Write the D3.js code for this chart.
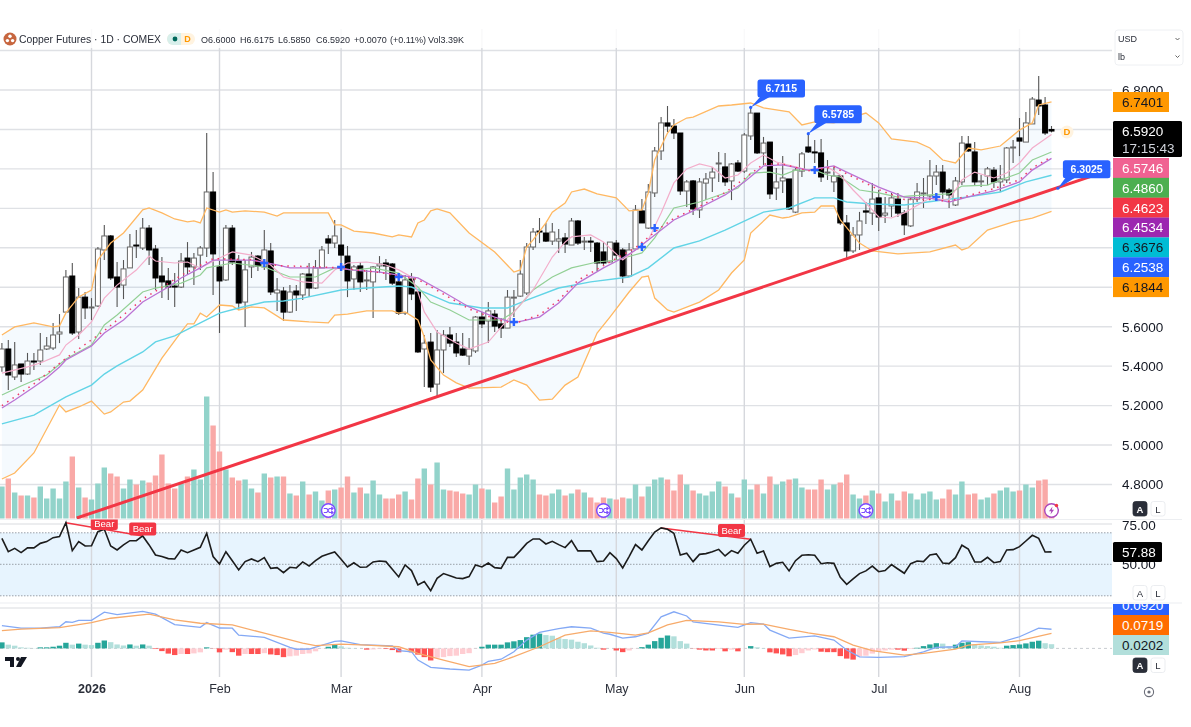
<!DOCTYPE html>
<html>
<head>
<meta charset="utf-8">
<title>Copper Futures</title>
<script src="https://cdnjs.cloudflare.com/ajax/libs/d3/7.8.5/d3.min.js"></script>
<style>
  html, body { margin: 0; padding: 0; background: #fff; }
  svg { display: block; filter: blur(0.4px); }
  text { font-family: "Liberation Sans", Arial, sans-serif; fill: #131722; }
</style>
</head>
<body>
<svg id="chart" width="1191" height="727"></svg>
<script>
// daily candles, one entry per bar
const opens = [5.396,5.487,5.345,5.411,5.360,5.426,5.426,5.487,5.492,5.563,
5.674,5.857,5.573,5.750,5.695,5.705,5.989,6.060,5.852,5.811,
5.898,6.014,5.999,6.100,5.994,5.857,5.832,5.806,5.801,5.948,
5.903,5.963,5.999,6.283,5.903,5.837,6.100,5.933,5.725,5.903,
5.958,5.903,5.984,5.771,5.781,5.674,5.781,5.761,5.867,5.796,
5.898,6.045,6.024,6.014,5.958,5.842,5.908,5.832,5.827,5.908,
5.923,5.918,5.827,5.669,5.842,5.776,5.487,5.522,5.309,5.482,
5.558,5.522,5.487,5.451,5.477,5.649,5.629,5.664,5.614,5.593,
5.745,5.755,5.771,6.004,6.085,6.075,6.034,6.034,6.050,6.014,
6.136,6.029,6.034,6.024,5.979,5.928,6.024,5.989,5.857,5.994,
6.187,6.100,6.278,6.491,6.633,6.617,6.582,6.288,6.339,6.192,
6.328,6.354,6.425,6.410,6.339,6.430,6.389,6.567,6.683,6.481,
6.536,6.303,6.339,6.349,6.181,6.389,6.511,6.486,6.481,6.379,
6.334,6.364,6.126,5.984,6.065,6.187,6.176,6.253,6.166,6.212,
6.247,6.176,6.111,6.247,6.273,6.263,6.364,6.384,6.293,6.217,
6.334,6.526,6.486,6.334,6.364,6.394,6.334,6.344,6.506,6.557,
6.536,6.628,6.749,6.724,6.600];
const highs = [5.517,5.533,5.523,5.411,5.467,5.467,5.568,5.548,5.619,5.664,
5.888,5.923,5.796,5.776,5.745,6.004,6.116,6.065,5.928,5.938,
6.070,6.090,6.151,6.116,6.014,5.953,5.898,5.872,5.974,6.029,
5.974,6.009,6.582,6.384,5.933,6.116,6.116,5.963,5.938,5.979,
5.963,6.090,6.024,5.847,5.801,5.811,5.811,5.872,5.923,5.938,
6.009,6.065,6.141,6.100,6.009,5.913,5.928,5.888,5.908,5.958,
5.943,5.923,5.862,5.862,5.872,5.781,5.558,5.568,5.583,5.583,
5.598,5.568,5.568,5.543,5.654,5.674,5.725,5.685,5.644,5.786,
5.786,5.938,6.024,6.100,6.151,6.126,6.126,6.095,6.075,6.151,
6.141,6.055,6.055,6.029,6.029,6.029,6.040,5.999,6.024,6.217,
6.247,6.323,6.511,6.663,6.719,6.653,6.582,6.344,6.344,6.354,
6.379,6.410,6.486,6.481,6.430,6.445,6.582,6.7115,6.683,6.562,
6.536,6.405,6.465,6.349,6.405,6.486,6.5785,6.547,6.552,6.445,
6.410,6.369,6.166,6.105,6.182,6.232,6.328,6.293,6.257,6.278,
6.278,6.192,6.257,6.328,6.354,6.445,6.420,6.420,6.303,6.359,
6.567,6.567,6.536,6.369,6.410,6.410,6.420,6.511,6.547,6.658,
6.689,6.764,6.871,6.764,6.6175];
const lows = [5.371,5.279,5.330,5.320,5.355,5.381,5.406,5.482,5.482,5.517,
5.674,5.558,5.538,5.639,5.634,5.700,5.938,5.837,5.700,5.740,
5.898,5.948,5.989,5.913,5.786,5.745,5.735,5.700,5.796,5.862,
5.811,5.888,5.953,5.761,5.568,5.832,5.913,5.685,5.598,5.847,
5.882,5.888,5.761,5.680,5.629,5.669,5.680,5.735,5.750,5.791,
5.898,5.969,5.999,5.898,5.750,5.786,5.776,5.786,5.644,5.872,
5.837,5.811,5.659,5.659,5.735,5.467,5.294,5.269,5.244,5.365,
5.497,5.446,5.451,5.406,5.467,5.593,5.517,5.573,5.543,5.593,
5.649,5.750,5.761,5.989,6.024,6.029,6.014,5.974,5.974,6.014,
6.014,5.989,5.979,5.882,5.913,5.928,5.938,5.822,5.852,5.989,
6.126,6.095,6.258,6.445,6.587,6.552,6.268,6.207,6.166,6.151,
6.242,6.283,6.334,6.313,6.242,6.384,6.379,6.547,6.476,6.420,
6.247,6.242,6.278,6.192,6.176,6.359,6.481,6.430,6.334,6.344,
6.283,6.116,5.948,5.974,5.989,6.121,6.116,6.085,6.126,6.156,
6.156,6.065,6.105,6.232,6.202,6.242,6.318,6.242,6.202,6.212,
6.318,6.486,6.313,6.308,6.318,6.303,6.283,6.328,6.430,6.465,
6.536,6.628,6.673,6.572,6.5850];
const closes = [5.487,5.355,5.406,5.360,5.426,5.421,5.482,5.502,5.558,5.573,
5.852,5.568,5.750,5.695,5.700,5.994,6.060,5.847,5.801,5.893,
6.004,6.009,6.100,5.989,5.847,5.827,5.801,5.801,5.933,5.903,
5.948,5.999,6.283,5.969,5.832,6.100,5.928,5.720,5.888,5.953,
5.908,5.989,5.776,5.786,5.674,5.776,5.761,5.867,5.796,5.898,
5.989,6.024,6.060,5.963,5.832,5.903,5.827,5.837,5.903,5.918,
5.908,5.821,5.669,5.837,5.766,5.472,5.517,5.294,5.482,5.558,
5.517,5.467,5.456,5.487,5.649,5.614,5.680,5.603,5.593,5.750,
5.750,5.867,6.004,6.080,6.080,6.034,6.080,6.045,6.019,6.136,
6.024,6.034,6.029,5.923,5.923,6.029,5.963,5.857,5.989,6.192,
6.126,6.283,6.491,6.633,6.617,6.582,6.288,6.334,6.197,6.334,
6.349,6.384,6.430,6.334,6.425,6.389,6.572,6.683,6.481,6.531,
6.273,6.334,6.354,6.197,6.394,6.476,6.486,6.481,6.359,6.384,
6.364,6.126,5.984,6.065,6.136,6.181,6.247,6.156,6.176,6.253,
6.176,6.116,6.247,6.283,6.278,6.364,6.384,6.283,6.268,6.339,
6.531,6.491,6.334,6.339,6.400,6.334,6.349,6.506,6.511,6.541,
6.633,6.754,6.719,6.582,6.5920];
// volume in thousands
const volumes = [32,40,26,23,23,21,32,20,30,20,
37,62,31,21,19,35,51,45,42,30,
39,34,38,36,43,64,35,30,35,42,
49,39,122,93,67,49,41,38,39,30,
26,45,41,42,42,25,23,37,24,27,
18,28,29,31,42,26,31,25,38,24,
20,20,24,27,19,40,50,34,56,29,
28,27,25,24,34,30,29,16,22,50,
29,41,44,39,24,23,25,29,23,25,
29,26,21,16,21,20,19,21,20,34,
22,32,39,41,39,28,44,34,28,25,
23,27,37,32,25,21,39,29,34,25,
42,34,37,39,40,31,29,29,39,29,
34,36,44,24,20,23,28,25,17,25,
18,27,25,19,25,27,19,20,29,24,
37,24,25,19,21,25,28,31,27,28,
34,31,38,39,3.39];
const rsi = [66.5,58.0,60.1,57.4,60.4,60.4,63.3,64.4,66.9,67.6,
76.4,58.7,64.4,61.6,61.8,70.7,72.2,61.6,59.1,62.3,
65.0,65.0,68.0,62.3,55.9,54.9,53.6,53.4,59.1,57.4,
59.1,60.8,69.7,54.9,50.2,58.0,52.3,46.4,51.7,53.4,
51.7,54.2,47.4,47.9,44.7,48.1,47.7,51.5,48.9,52.3,
55.1,56.5,57.8,53.2,48.3,51.0,48.1,48.3,51.5,52.1,
51.7,46.8,42.0,49.6,46.0,36.9,39.0,33.3,41.1,44.1,
42.8,41.3,40.9,42.2,49.6,48.3,50.8,47.9,47.4,54.4,
54.4,58.7,63.3,66.1,66.1,62.9,64.6,62.5,60.6,65.0,
58.5,58.5,58.5,51.7,52.1,57.4,53.6,47.7,54.9,62.5,
59.1,65.0,70.5,73.1,72.2,69.7,55.9,57.0,51.7,56.3,
56.8,58.0,59.5,55.3,58.7,57.0,62.1,65.9,57.0,58.5,
48.5,50.6,51.3,45.8,52.3,55.7,56.1,55.7,50.4,51.0,
50.6,41.7,37.3,40.7,44.1,45.8,48.9,45.3,46.0,49.8,
47.0,44.3,50.4,52.1,51.7,55.9,56.6,50.8,50.4,54.2,
62.1,59.7,51.5,51.5,54.4,51.0,51.7,59.1,59.3,61.2,
64.8,68.4,66.5,57.8,57.88];
const macdHist = [.029,.018,.013,.005,.003,.001,.005,.005,.008,.013,
.027,.018,.023,.018,.016,.027,.038,.030,.019,.014,
.019,.013,.019,.013,-.003,-.013,-.025,-.032,-.027,-.027,
-.024,-.019,.005,-.001,-.019,-.006,-.018,-.035,-.027,-.027,
-.027,-.023,-.029,-.032,-.042,-.038,-.035,-.027,-.024,-.014,
-.001,.008,.018,.010,.003,.001,0,-.006,-.005,-.003,
-.003,-.008,-.019,-.003,-.019,-.030,-.042,-.058,-.045,-.042,
-.037,-.035,-.027,-.023,-.001,.008,.018,.018,.018,.029,
.034,.040,.054,.066,.071,.064,.061,.049,.045,.042,
.032,.025,.014,.003,-.006,0,-.010,-.018,-.010,-.001,
.006,.018,.035,.051,.062,.058,.035,.023,-.001,-.006,
-.010,-.010,-.003,-.014,-.006,-.014,-.001,.011,.005,.001,
-.019,-.024,-.029,-.038,-.032,-.023,-.010,-.005,-.016,-.018,
-.018,-.037,-.049,-.054,-.038,-.035,-.025,-.016,-.010,-.006,
-.006,-.011,-.003,.003,.011,.019,.025,.023,.010,.018,
.027,.030,.018,.014,.011,.008,.003,.013,.016,.019,
.024,.032,.037,.025,.0202];

const bbUpper = [[0,5.558],[2,5.599],[5,5.619],[8,5.599],[9,5.604],[10,5.670],[12,5.751],[14,5.786],[15,5.938],[17,6.024],[19,6.075],[22,6.192],[23,6.202],[25,6.177],[27,6.146],[29,6.131],[30,6.136],[31,6.126],[32,6.202],[34,6.181],[35,6.192],[36,6.181],[38,6.187],[41,6.181],[43,6.161],[44,6.177],[51,6.177],[52,6.116],[53,6.116],[55,6.085],[58,6.075],[61,6.055],[62,6.065],[64,6.055],[65,6.126],[66,6.141],[67,6.187],[68,6.197],[70,6.177],[73,6.075],[77,5.979],[80,5.877],[81,5.888],[82,6.004],[83,6.040],[85,6.126],[86,6.181],[88,6.227],[89,6.283],[91,6.298],[93,6.273],[96,6.253],[98,6.187],[100,6.192],[101,6.278],[102,6.445],[104,6.582],[105,6.623],[107,6.658],[108,6.663],[112,6.719],[114,6.724],[117,6.734],[119,6.709],[123,6.689],[125,6.623],[127,6.638],[130,6.633],[135,6.683],[137,6.633],[139,6.552],[143,6.536],[145,6.506],[147,6.445],[149,6.430],[151,6.506],[153,6.496],[156,6.516],[159,6.597],[161,6.633],[162,6.724],[164,6.7401]];
const bbLower = [[0,4.828],[2,4.858],[5,4.960],[9,5.203],[10,5.168],[12,5.193],[14,5.223],[16,5.157],[17,5.168],[19,5.218],[20,5.223],[22,5.279],[25,5.441],[28,5.573],[29,5.614],[30,5.614],[31,5.669],[32,5.649],[34,5.710],[36,5.705],[37,5.685],[39,5.700],[41,5.695],[44,5.634],[48,5.624],[51,5.619],[52,5.659],[54,5.664],[57,5.680],[61,5.680],[62,5.669],[63,5.675],[65,5.634],[66,5.548],[67,5.431],[69,5.355],[71,5.315],[73,5.289],[78,5.294],[80,5.330],[82,5.304],[84,5.228],[86,5.233],[88,5.304],[90,5.345],[93,5.568],[95,5.649],[98,5.776],[100,5.852],[101,5.857],[102,5.745],[104,5.685],[105,5.674],[109,5.725],[112,5.786],[114,5.872],[116,5.938],[117,6.075],[120,6.166],[122,6.151],[123,6.156],[125,6.177],[127,6.181],[128,6.212],[130,6.212],[131,6.141],[134,6.024],[136,5.984],[140,5.969],[145,5.979],[149,6.014],[150,5.989],[151,6.000],[154,6.090],[158,6.131],[161,6.151],[164,6.1844]];
const cyanLine = [[0,5.107],[5,5.152],[10,5.244],[14,5.304],[16,5.360],[18,5.401],[22,5.472],[24,5.523],[27,5.553],[31,5.619],[34,5.669],[37,5.695],[41,5.725],[44,5.730],[47,5.745],[53,5.786],[57,5.796],[62,5.806],[64,5.801],[67,5.761],[70,5.720],[75,5.695],[79,5.695],[82,5.735],[87,5.796],[92,5.827],[98,5.852],[101,5.898],[105,5.999],[109,6.035],[113,6.090],[117,6.151],[119,6.181],[123,6.202],[127,6.253],[130,6.253],[132,6.232],[136,6.222],[141,6.217],[147,6.242],[151,6.258],[156,6.283],[160,6.334],[164,6.3676]];
const greenLine = [[0,5.254],[3,5.299],[7,5.355],[10,5.436],[14,5.507],[16,5.609],[18,5.659],[22,5.776],[24,5.796],[28,5.821],[31,5.862],[32,5.898],[36,5.923],[41,5.903],[43,5.877],[45,5.852],[49,5.852],[52,5.898],[55,5.887],[58,5.898],[62,5.872],[65,5.801],[67,5.725],[70,5.685],[73,5.634],[78,5.634],[80,5.674],[83,5.786],[86,5.852],[89,5.898],[93,5.928],[96,5.938],[100,5.974],[102,6.050],[105,6.202],[109,6.232],[113,6.278],[115,6.303],[117,6.379],[120,6.384],[122,6.369],[124,6.394],[127,6.394],[129,6.369],[131,6.359],[134,6.293],[137,6.278],[140,6.257],[142,6.263],[148,6.273],[150,6.313],[154,6.318],[156,6.344],[159,6.379],[161,6.445],[164,6.4860]];
const purpleLine = [[0,5.188],[2,5.228],[5,5.294],[7,5.340],[9,5.396],[10,5.431],[14,5.502],[16,5.568],[19,5.634],[22,5.725],[26,5.801],[28,5.847],[31,5.898],[33,5.938],[36,5.938],[39,5.938],[43,5.913],[45,5.898],[52,5.898],[55,5.887],[59,5.877],[62,5.862],[65,5.847],[69,5.776],[73,5.700],[77,5.649],[80,5.619],[84,5.649],[87,5.720],[90,5.821],[94,5.898],[97,5.948],[99,5.989],[102,6.065],[105,6.141],[109,6.202],[113,6.268],[116,6.334],[119,6.415],[122,6.420],[126,6.394],[130,6.415],[132,6.384],[137,6.308],[141,6.257],[145,6.252],[148,6.232],[151,6.258],[155,6.288],[159,6.334],[161,6.394],[164,6.4534]];
const redDots = [[0,5.20],[5,5.31],[10,5.44],[16,5.58],[22,5.74],[28,5.86],[33,5.945],[39,5.94],[43,5.91],[52,5.90],[59,5.875],[65,5.84],[69,5.765],[73,5.69],[77,5.64],[80,5.615],[84,5.66],[87,5.735],[90,5.835],[94,5.91],[99,6.0],[102,6.08],[105,6.15],[109,6.21],[113,6.28],[116,6.35],[119,6.425],[122,6.425],[126,6.39],[130,6.41],[132,6.375],[137,6.295],[141,6.245],[145,6.245],[148,6.235],[151,6.265],[155,6.30],[159,6.345],[161,6.405],[164,6.4623]];
const pinkLine = [[0,5.365],[4,5.396],[6,5.416],[9,5.457],[10,5.507],[12,5.558],[14,5.624],[16,5.745],[18,5.811],[21,5.887],[23,5.958],[24,5.933],[27,5.923],[29,5.928],[31,5.898],[34,5.948],[36,5.979],[39,5.963],[42,5.913],[44,5.852],[47,5.827],[50,5.821],[52,5.887],[54,5.923],[57,5.928],[60,5.913],[62,5.888],[64,5.852],[65,5.776],[66,5.675],[68,5.573],[71,5.517],[73,5.487],[76,5.522],[83,5.786],[86,5.953],[88,6.029],[89,6.055],[92,6.065],[94,6.029],[97,5.938],[99,5.989],[101,6.040],[103,6.177],[105,6.329],[107,6.400],[109,6.425],[111,6.410],[113,6.354],[115,6.369],[117,6.430],[119,6.470],[121,6.435],[124,6.410],[126,6.394],[129,6.410],[131,6.369],[133,6.293],[135,6.227],[137,6.156],[139,6.151],[141,6.177],[145,6.252],[148,6.242],[150,6.344],[152,6.384],[155,6.354],[157,6.379],[159,6.430],[161,6.506],[164,6.5746]];
const macdLine = [[0,.109],[3,.097],[6,.097],[9,.104],[10,.128],[11,.125],[12,.135],[14,.135],[16,.174],[18,.162],[22,.178],[24,.165],[27,.114],[31,.101],[32,.124],[34,.098],[36,.097],[37,.064],[41,.053],[45,.005],[46,-.004],[48,-.003],[52,.034],[53,.036],[56,.018],[61,.012],[62,-.011],[64,-.016],[65,-.056],[67,-.091],[70,-.099],[73,-.104],[75,-.080],[76,-.062],[78,-.052],[80,-.016],[82,.040],[84,.077],[87,.095],[89,.104],[92,.097],[94,.073],[95,.068],[97,.049],[99,.056],[101,.073],[103,.152],[105,.176],[107,.156],[108,.128],[113,.108],[115,.101],[117,.124],[119,.117],[120,.088],[123,.049],[127,.060],[130,.040],[132,-.008],[134,-.041],[137,-.043],[141,-.040],[144,-.017],[146,.005],[149,.008],[150,.036],[153,.032],[156,.029],[159,.056],[162,.097],[164,.092]];
const signalLine = [[0,.085],[3,.093],[9,.100],[14,.124],[17,.145],[23,.165],[27,.137],[31,.121],[36,.113],[41,.073],[47,.025],[49,.013],[53,.021],[57,.016],[62,.008],[65,-.024],[69,-.056],[73,-.088],[77,-.072],[80,-.040],[84,.008],[88,.064],[92,.084],[95,.077],[99,.064],[101,.075],[104,.113],[107,.135],[112,.128],[116,.116],[119,.117],[123,.092],[126,.075],[130,.056],[133,.016],[136,-.011],[141,-.032],[144,-.024],[149,-.004],[151,.016],[156,.027],[159,.037],[164,.0719]];
const crossMarks = [[41,5.923],[53,5.903],[62,5.852],[80,5.624],[100,6.004],[102,6.100],[127,6.394],[146,6.258]];
const trendLine = [[11.7,4.630],[171.1,6.372]];
const rsiDivergences = [[[10,76.4],[22,68.0]],[[103,73.1],[117,65.9]]];
const bearLabelBars = [16,22,114];
const priceCallouts = [[117,6.7115],[126,6.5785],[165,6.3025]];
const eventBars = [51,94,135];

// axes labels
const monthBars = [14,34,53,75,96,116,137,159];
const monthLabels = ["2026","Feb","Mar","Apr","May","Jun","Jul","Aug"];
const priceTicks = [7.0,6.8,6.6,6.4,6.2,6.0,5.8,5.6,5.4,5.2,5.0,4.8];
const rsiTicks = [75,50];
const rsiGuides = [70,50,30];
const priceTags = [["6.5746","#f06292","#fff"],["6.4860","#4caf50","#fff"],["6.4623","#f23645","#fff"],["6.4534","#9c27b0","#fff"],["6.3676","#00bcd4","#131722"],["6.2538","#2962ff","#fff"],["6.1844","#ff9800","#131722"]];
const macdTags = [["0.0920","#2962ff","#fff"],["0.0719","#ff6d00","#fff"],["0.0202","#b2dfdb","#131722"]];
const legendValues = [["O6.6000",201],["H6.6175",240],["L6.5850",278],["C6.5920",316],["+0.0070",354],["(+0.11%)",390],["Vol3.39K",428]];

const plotRight = 1112;
const gridColor = "#dfe1e5";
const svg = d3.select("#chart");

const x = d3.scaleLinear().domain([0, 164]).range([1.9, 1051.5]);
const yPrice = d3.scaleLinear().domain([4.8, 6.8]).range([484.5, 90]);
const yVol = d3.scaleLinear().domain([0, 122]).range([518.5, 396.5]);
const yRsi = d3.scaleLinear().domain([30, 70]).range([595.8, 532.8]);
const yMacd = d3.scaleLinear().domain([-0.1, 0.1]).range([669.2, 627.6]);

const priceLine = d3.line().x(d => x(d[0])).y(d => yPrice(d[1]));
const macdPath = d3.line().x(d => x(d[0])).y(d => yMacd(d[1]));

const defs = svg.append("defs");
defs.append("clipPath").attr("id", "clipPrice").append("rect").attr("x", 0).attr("y", 29).attr("width", plotRight).attr("height", 490);
defs.append("clipPath").attr("id", "clipRsi").append("rect").attr("x", 0).attr("y", 519.5).attr("width", plotRight).attr("height", 84);
defs.append("clipPath").attr("id", "clipMacdTags").append("rect").attr("x", plotRight).attr("y", 604).attr("width", 79).attr("height", 60);

// ---- grid
const gridG = svg.append("g");
gridG.selectAll("line.h").data(priceTicks).join("line")
  .attr("x1", 0).attr("x2", plotRight)
  .attr("y1", d => yPrice(d)).attr("y2", d => yPrice(d))
  .attr("stroke", gridColor).attr("stroke-width", 1.4);
gridG.selectAll("line.v").data(monthBars).join("line")
  .attr("x1", d => x(d)).attr("x2", d => x(d))
  .attr("y1", 29).attr("y2", 677)
  .attr("stroke", "#d6d8dd").attr("stroke-width", 1.4);

// rsi band sits under the lines
svg.append("rect").attr("x", 0).attr("width", plotRight)
  .attr("y", yRsi(70)).attr("height", yRsi(30) - yRsi(70))
  .attr("fill", "#e7f4fe");
gridG.raise();
svg.selectAll("line.rsiGuide").data(rsiGuides).join("line").attr("class", "rsiGuide")
  .attr("x1", 0).attr("x2", plotRight)
  .attr("y1", d => yRsi(d)).attr("y2", d => yRsi(d))
  .attr("stroke", "#9aa0a8").attr("stroke-width", 1).attr("stroke-dasharray", "1.5 1.5");

// pane separators
[519.5, 524, 603, 608].forEach((yy, k) => {
  svg.append("line").attr("x1", 0).attr("x2", k == 0 || k == 2 ? 1182 : plotRight).attr("y1", yy).attr("y2", yy)
    .attr("stroke", k % 2 ? "#d9dbdf" : "#eceef1").attr("stroke-width", 1.2);
});

// ---- volume
svg.append("g").selectAll("rect").data(volumes).join("rect")
  .attr("x", (d, i) => x(i) - 2.7).attr("width", 5.4)
  .attr("y", d => yVol(d)).attr("height", d => yVol(0) - yVol(d))
  .attr("fill", (d, i) => closes[i] >= opens[i] ? "#92d3ca" : "#f9a9a7");

// ---- price pane
const priceG = svg.append("g").attr("clip-path", "url(#clipPrice)");
priceG.append("path").attr("d", priceLine([...bbUpper, ...bbLower.slice().reverse()]))
  .attr("fill", "#2196f3").attr("fill-opacity", 0.045);

const candle = priceG.append("g").selectAll("g").data(d3.range(opens.length)).join("g");
candle.append("line")
  .attr("x1", i => x(i)).attr("x2", i => x(i))
  .attr("y1", i => yPrice(highs[i])).attr("y2", i => yPrice(lows[i]))
  .attr("stroke", "#555").attr("stroke-width", 1.1);
candle.append("rect")
  .attr("x", i => x(i) - 2.5).attr("width", 5)
  .attr("y", i => yPrice(Math.max(opens[i], closes[i])))
  .attr("height", i => Math.max(1, Math.abs(yPrice(opens[i]) - yPrice(closes[i]))))
  .attr("fill", i => closes[i] >= opens[i] ? "#fff" : "#000")
  .attr("stroke", i => closes[i] >= opens[i] ? "#666" : "#000").attr("stroke-width", 1);

const overlays = [
  [bbUpper, "#ffb862", 1.3],
  [bbLower, "#ffb862", 1.3],
  [cyanLine, "#62d4e6", 1.4],
  [greenLine, "#93d096", 1.2],
  [pinkLine, "#f3aecb", 1.2],
  [purpleLine, "#bb73d4", 1.3]
];
overlays.forEach(o => {
  priceG.append("path").attr("d", priceLine(o[0])).attr("fill", "none")
    .attr("stroke", o[1]).attr("stroke-width", o[2]);
});
priceG.append("path").attr("d", priceLine(redDots)).attr("fill", "none")
  .attr("stroke", "#f0396a").attr("stroke-width", 1.5).attr("stroke-dasharray", "1.5 4.9");

crossMarks.forEach(d => {
  const cx = x(d[0]), cy = yPrice(d[1]);
  priceG.append("path").attr("d", `M${cx - 4} ${cy}H${cx + 4}M${cx} ${cy - 4}V${cy + 4}`)
    .attr("stroke", "#2962ff").attr("stroke-width", 2.4).attr("fill", "none");
});

priceG.append("path").attr("d", priceLine(trendLine)).attr("fill", "none")
  .attr("stroke", "#f23645").attr("stroke-width", 3);

// ---- rsi
const rsiG = svg.append("g").attr("clip-path", "url(#clipRsi)");
rsiDivergences.forEach(seg => {
  rsiG.append("line")
    .attr("x1", x(seg[0][0])).attr("y1", yRsi(seg[0][1]))
    .attr("x2", x(seg[1][0])).attr("y2", yRsi(seg[1][1]))
    .attr("stroke", "#f23645").attr("stroke-width", 1.5);
});
rsiG.append("path")
  .attr("d", d3.line().x((d, i) => x(i)).y(d => yRsi(d))(rsi))
  .attr("fill", "none").attr("stroke", "#1c1c1c").attr("stroke-width", 1.6);
bearLabelBars.forEach((b, k) => {
  const top = [517, 522.5, 524][k];
  const g = rsiG.append("g");
  g.append("rect").attr("x", x(b) - 13.5).attr("y", top).attr("width", 27).attr("height", 13).attr("rx", 2).attr("fill", "#f23645");
  g.append("text").attr("x", x(b)).attr("y", top + 9.7).attr("text-anchor", "middle")
    .attr("font-size", 9.5).style("fill", "#fff").text("Bear");
});

// ---- macd
svg.append("line").attr("x1", 0).attr("x2", plotRight).attr("y1", yMacd(0)).attr("y2", yMacd(0))
  .attr("stroke", "#c9ccd1").attr("stroke-width", 1).attr("stroke-dasharray", "3 3");
svg.append("g").selectAll("rect").data(macdHist).join("rect")
  .attr("x", (d, i) => x(i) - 2.7).attr("width", 5.4)
  .attr("y", d => Math.min(yMacd(d), yMacd(0)))
  .attr("height", d => Math.abs(yMacd(d) - yMacd(0)))
  .attr("fill", (d, i) => {
    const prev = i ? macdHist[i - 1] : d;
    if (d >= 0) return d >= prev ? "#26a69a" : "#b2dfdb";
    return d <= prev ? "#ff5252" : "#ffcdd2";
  });
svg.append("path").attr("d", macdPath(macdLine)).attr("fill", "none").attr("stroke", "#84a9f5").attr("stroke-width", 1.3);
svg.append("path").attr("d", macdPath(signalLine)).attr("fill", "none").attr("stroke", "#f7ab6b").attr("stroke-width", 1.3);

// ---- callouts and event icons
priceCallouts.forEach((d, k) => {
  const px = x(d[0]), py = yPrice(d[1]);
  const bx = px + [6.8, 6, 5][k], by = py - [28, 28.5, 28][k], bw = 47.5, bh = 18;
  svg.append("path").attr("d", `M${px} ${py}L${bx + 3} ${by + bh - 1}L${bx + 13} ${by + bh - 1}Z`).attr("fill", "#2962ff");
  svg.append("rect").attr("x", bx).attr("y", by).attr("width", bw).attr("height", bh).attr("rx", 2.5).attr("fill", "#2962ff");
  svg.append("circle").attr("cx", px).attr("cy", py).attr("r", 1.6).attr("fill", "#2962ff");
  svg.append("text").attr("x", bx + bw / 2).attr("y", by + 12.6).attr("text-anchor", "middle")
    .attr("font-size", 10.5).attr("font-weight", "bold").style("fill", "#fff").text(d[1].toFixed(4));
});

eventBars.forEach(b => {
  const g = svg.append("g").attr("transform", `translate(${x(b)},510.5)`);
  g.append("circle").attr("r", 6.8).attr("fill", "#fff").attr("stroke", "#7c4dff").attr("stroke-width", 1.5);
  g.append("path").attr("d", "M-4.5 -2H-1.5L1 2H4.5M-4.5 2H-1.5L1 -2H4.5M3 -3.5L4.8 -2L3 -0.5M3 0.5L4.8 2L3 3.5")
    .attr("fill", "none").attr("stroke", "#7c4dff").attr("stroke-width", 1.1);
});
const flash = svg.append("g").attr("transform", `translate(${x(164)},510.5)`);
flash.append("circle").attr("r", 6.8).attr("fill", "#fff").attr("stroke", "#ab47bc").attr("stroke-width", 1.4);
flash.append("path").attr("d", "M1 -4L-2.5 0.8H-0.3L-1 4L2.5 -0.8H0.3Z").attr("fill", "#ab47bc");
flash.append("circle").attr("cx", 5).attr("cy", -5).attr("r", 1.7).attr("fill", "#f23645");

const dBadge = svg.append("g").attr("transform", `translate(${x(164) + 15.5},132)`);
dBadge.append("circle").attr("r", 6.5).attr("fill", "#fff3e0");
dBadge.append("text").attr("y", 3.4).attr("text-anchor", "middle").attr("font-size", 9.5).attr("font-weight", "bold")
  .style("fill", "#ff9800").text("D");

// ---- right axis
const priceAxis = d3.axisRight(yPrice).tickValues(priceTicks.slice(1)).tickFormat(d3.format(".4f")).tickSize(0).tickPadding(5);
svg.append("g").attr("transform", "translate(1117,0)").call(priceAxis)
  .call(g => g.select(".domain").remove())
  .selectAll("text").attr("font-size", 13.5).attr("font-family", "Liberation Sans");
const rsiAxis = d3.axisRight(yRsi).tickValues(rsiTicks).tickFormat(d3.format(".2f")).tickSize(0).tickPadding(5);
svg.append("g").attr("transform", "translate(1117,0)").call(rsiAxis)
  .call(g => g.select(".domain").remove())
  .selectAll("text").attr("font-size", 13.5).attr("font-family", "Liberation Sans");

function tag(parent, top, h, w, fill, color, txt) {
  parent.append("rect").attr("x", plotRight + 1).attr("y", top).attr("width", w).attr("height", h).attr("fill", fill);
  parent.append("text").attr("x", plotRight + 10).attr("y", top + h / 2 + 4.8)
    .attr("font-size", 13.5).style("fill", color).text(txt);
}
tag(svg, 92, 20, 56, "#ff9800", "#131722", "6.7401");
priceTags.forEach((d, k) => tag(svg, 158 + k * 19.85, 20, 56, d[1], d[2], d[0]));
// last price box has the countdown under it
svg.append("rect").attr("x", plotRight + 1).attr("y", 121).attr("width", 69).attr("height", 36).attr("rx", 1.5).attr("fill", "#000");
svg.append("text").attr("x", plotRight + 10).attr("y", 136).attr("font-size", 13.5).style("fill", "#fff").text("6.5920");
svg.append("text").attr("x", plotRight + 10).attr("y", 152.5).attr("font-size", 13.5).style("fill", "#d1d4dc").text("17:15:43");
// rsi last value
svg.append("rect").attr("x", plotRight + 1).attr("y", 542).attr("width", 49).attr("height", 20).attr("rx", 1.5).attr("fill", "#000");
svg.append("text").attr("x", plotRight + 10).attr("y", 556.8).attr("font-size", 13.5).style("fill", "#fff").text("57.88");
const macdTagG = svg.append("g").attr("clip-path", "url(#clipMacdTags)");
macdTags.forEach((d, k) => tag(macdTagG, 595 + k * 20, 20, 56, d[1], d[2], d[0]));

function scaleButtons(top, auto) {
  [["A", 1133], ["L", 1151]].forEach((b, k) => {
    const dark = k == 0 && auto;
    svg.append("rect").attr("x", b[1]).attr("y", top).attr("width", 14).attr("height", 14.5).attr("rx", 2.5)
      .attr("fill", dark ? "#2a2e39" : "#fff").attr("stroke", dark ? "#2a2e39" : "#e6e8ec").attr("stroke-width", 0.8);
    svg.append("text").attr("x", b[1] + 7).attr("y", top + 11).attr("text-anchor", "middle")
      .attr("font-size", 9.5).attr("font-weight", k == 0 && auto ? "bold" : "normal")
      .style("fill", dark ? "#fff" : "#2a2e39").text(b[0]);
  });
}
scaleButtons(501.5, true);
scaleButtons(585.5, false);
scaleButtons(658, true);

// ---- time axis
const timeAxis = d3.axisBottom(x).tickValues(monthBars).tickFormat((d, i) => monthLabels[i]).tickSize(0).tickPadding(0);
svg.append("g").attr("transform", "translate(0,684.5)").call(timeAxis)
  .call(g => g.select(".domain").remove())
  .selectAll("text").attr("font-size", 12.5).attr("font-family", "Liberation Sans")
  .attr("font-weight", (d, i) => i == 0 ? "bold" : "normal").style("fill", "#2a2e39");

// gear under the scale
svg.append("circle").attr("cx", 1149).attr("cy", 692).attr("r", 4.6).attr("fill", "none").attr("stroke", "#6a6d78").attr("stroke-width", 1.1);
svg.append("circle").attr("cx", 1149).attr("cy", 692).attr("r", 1.6).attr("fill", "#6a6d78");

// tv logo
const logo = svg.append("g").attr("transform", "translate(5,657)").attr("fill", "#131722");
logo.append("path").attr("d", "M0 0H9V10H5V4H0Z");
logo.append("circle").attr("cx", 13).attr("cy", 2).attr("r", 2);
logo.append("path").attr("d", "M16 0H22L16 10H11Z");

// ---- header
svg.append("rect").attr("x", 0).attr("y", 29).attr("width", plotRight).attr("height", 19).attr("fill", "#fff").attr("fill-opacity", 0.85);
const logoG = svg.append("g").attr("transform", "translate(10,39)");
logoG.append("circle").attr("r", 6.5).attr("fill", "#c7663f");
[[0, -2.8], [-2.6, 1.6], [2.6, 1.6]].forEach(p => logoG.append("circle").attr("cx", p[0]).attr("cy", p[1]).attr("r", 1.7).attr("fill", "#fff"));
svg.append("text").attr("x", 19).attr("y", 43).attr("font-size", 10.4).style("fill", "#2a2e39").text("Copper Futures · 1D · COMEX");
svg.append("rect").attr("x", 167).attr("y", 33).attr("width", 28).attr("height", 12).attr("rx", 6).attr("fill", "#fff3e0");
svg.append("path").attr("d", "M181 33H173a6 6 0 0 0 0 12H181Z").attr("fill", "#d8efeb");
svg.append("circle").attr("cx", 175).attr("cy", 39).attr("r", 2.4).attr("fill", "#00695c");
svg.append("text").attr("x", 187.5).attr("y", 42.3).attr("text-anchor", "middle").attr("font-size", 9).attr("font-weight", "bold").style("fill", "#ff9800").text("D");
svg.selectAll("text.legend").data(legendValues).join("text").attr("class", "legend")
  .attr("x", d => d[1]).attr("y", 42.5).attr("font-size", 9).style("fill", "#2a2e39").text(d => d[0]);

// currency / unit box
svg.append("rect").attr("x", 1115).attr("y", 30).attr("width", 68).attr("height", 35).attr("rx", 3)
  .attr("fill", "#fff").attr("stroke", "#eef0f3");
[["USD", 42], ["lb", 59.5]].forEach(d => {
  svg.append("text").attr("x", 1118).attr("y", d[1]).attr("font-size", 9).style("fill", "#2a2e39").text(d[0]);
  svg.append("path").attr("d", `M1175.5 ${d[1] - 4}l2 2l2 -2`).attr("fill", "none").attr("stroke", "#555").attr("stroke-width", 0.9);
});
</script>
</body>
</html>
